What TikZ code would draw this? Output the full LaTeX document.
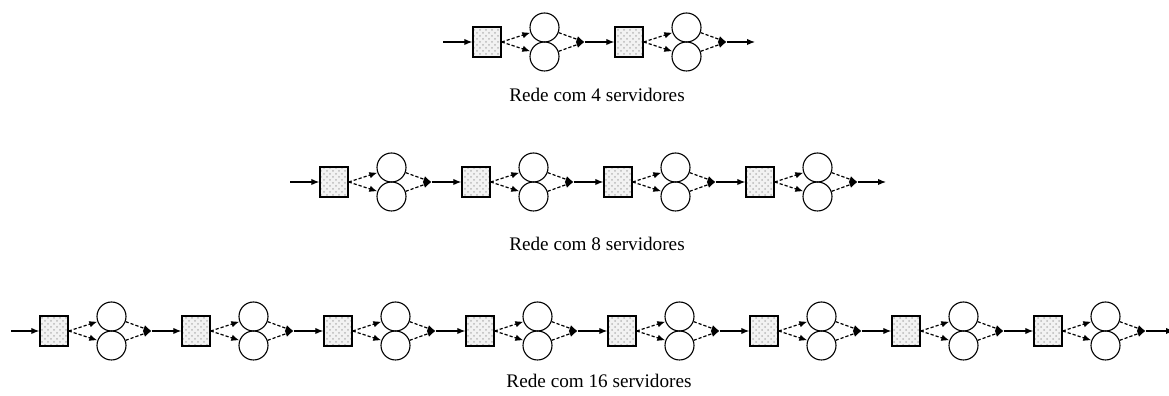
\documentclass[tikz,border=0pt]{standalone}
\usepackage{fontspec}
\setmainfont{Liberation Serif}
\usetikzlibrary{positioning,arrows.meta,patterns}

\tikzset{
  fila/.style={draw, line width=0.7pt, minimum width=14pt, minimum height=15pt,
    inner sep=0pt, preaction={fill=gray!10},
    preaction={pattern=crosshatch dots, pattern color=gray!55}},
  servidor/.style={circle, draw, line width=0.55pt, minimum size=14.5pt, inner sep=0pt},
  seta/.style={-{Latex[length=4pt,width=3.2pt]}, line width=0.6pt},
  tracejada/.style={seta, dash pattern=on 1.6pt off 1pt},
  rotulo/.style={anchor=base, font=\fontsize{9.6}{11}\selectfont},
}

% um estagio: fila + dois servidores + ponto de juncao
\newcommand{\estagio}[4]{%
  \node[fila] (#1f#2) at (#3+14,#4) {};
  \node[servidor] (#1s#2) at (#3+71.5,#4+14.5) {};
  \node[servidor] (#1t#2) at (#3+71.5,#4-14.5) {};
  \coordinate (#1j#2) at (#3+111.5,#4);
  \draw[tracejada] (#1f#2.east) -- (#1s#2.200);
  \draw[tracejada] (#1f#2.east) -- (#1t#2.160);
  \draw[tracejada] (#1s#2.-20) -- (#1j#2);
  \draw[tracejada] (#1t#2.20) -- (#1j#2);
}

\begin{document}
\begin{tikzpicture}[x=0.5pt,y=0.5pt]
  \useasboundingbox (0,0) rectangle (1169,396);

  % rede com 4 servidores
  \coordinate (a0) at (443,354);
  \foreach \k in {0,1} {\estagio{a}{\k}{473+142*\k}{354}}
  \draw[seta] (a0) -- (af0.west);
  \draw[seta] (aj0) -- (af1.west);
  \coordinate (asai) at (755,354);
  \draw[seta] (aj1) -- (asai);
  \node[rotulo] (rotuloa) at (597,294) {Rede com 4 servidores};

  % rede com 8 servidores
  \coordinate (b0) at (290,214);
  \foreach \k in {0,...,3} {\estagio{b}{\k}{320+142*\k}{214}}
  \draw[seta] (b0) -- (bf0.west);
  \foreach \k [evaluate=\k as \n using int(\k+1)] in {0,1,2}
    \draw[seta] (bj\k) -- (bf\n.west);
  \coordinate (bsai) at (886,214);
  \draw[seta] (bj3) -- (bsai);
  \node[rotulo] (rotulob) at (597,145) {Rede com 8 servidores};

  % rede com 16 servidores
  \coordinate (c0) at (11,65);
  \foreach \k in {0,...,7} {\estagio{c}{\k}{40+142*\k}{65}}
  \draw[seta] (c0) -- (cf0.west);
  \foreach \k [evaluate=\k as \n using int(\k+1)] in {0,...,6}
    \draw[seta] (cj\k) -- (cf\n.west);
  \coordinate (csai) at (1174,65);
  \draw[seta] (cj7) -- (csai);
  \node[rotulo] (rotuloc) at (599,8) {Rede com 16 servidores};
\end{tikzpicture}
\end{document}
